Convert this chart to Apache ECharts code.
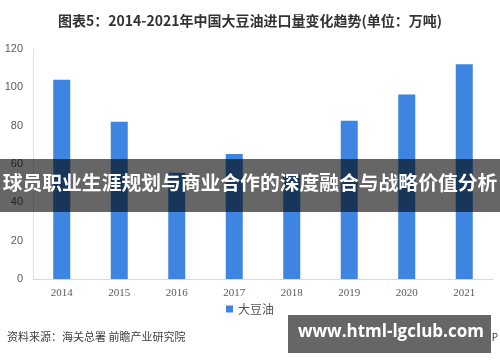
<!DOCTYPE html>
<html><head><meta charset="utf-8">
<script src="https://cdn.jsdelivr.net/npm/echarts@6/dist/echarts.min.js"></script>
<style>html,body{margin:0;padding:0;background:#fff}#c{width:500px;height:362px}</style>
</head><body><div id="c"></div>
<script>
const categories = ['2014','2015','2016','2017','2018','2019','2020','2021'];
const soyOil = [104, 82, 55.5, 65.2, 54.8, 82.6, 96.3, 112];
const yTicks = [0, 20, 40, 60, 80, 100, 120];
const titleText = '图表5：2014-2021年中国大豆油进口量变化趋势(单位：万吨)';
const seriesName = '大豆油';
const sourceText = '资料来源：海关总署 前瞻产业研究院';
const creditText = '@前瞻经济学人APP';
const bannerText = '球员职业生涯规划与商业合作的深度融合与战略价值分析';
const boxText = 'www.html-lgclub.com';

const chart = echarts.init(document.getElementById('c'), null, {renderer: 'canvas'});
chart.setOption({
  animation: false,
  backgroundColor: '#fff',
  title: {
    text: titleText, left: 'center', top: 9,
    textStyle: {fontSize: 14, fontWeight: 'bold', color: '#333', fontFamily: 'Noto Sans CJK SC'}
  },
  grid: {left: 33, right: 7, top: 49, bottom: 83},
  legend: {
    bottom: 42, left: 'center', itemWidth: 7, itemHeight: 7, itemGap: 6,
    icon: 'rect',
    textStyle: {fontSize: 12, color: '#555', fontFamily: 'Noto Sans CJK SC'},
    data: [seriesName]
  },
  xAxis: {
    type: 'category', data: categories,
    axisLine: {lineStyle: {color: '#d9d9d9'}},
    axisTick: {show: false},
    axisLabel: {color: '#595959', fontSize: 11, fontFamily: 'Liberation Serif', margin: 9}
  },
  yAxis: {
    type: 'value', min: yTicks[0], max: yTicks[yTicks.length - 1], interval: 20,
    axisLine: {show: true, lineStyle: {color: '#e0e0e0'}},
    axisTick: {show: false},
    splitLine: {show: false},
    axisLabel: {color: '#595959', fontSize: 11, fontFamily: 'Liberation Sans', margin: 10}
  },
  series: [{
    name: seriesName, type: 'bar', data: soyOil,
    barWidth: 17,
    itemStyle: {color: '#3D85E0'}
  }],
  graphic: [
    {type: 'text', left: 7, top: 331, z: 10,
     style: {text: sourceText, fill: '#404040', fontSize: 11, fontFamily: 'Noto Sans CJK SC'}},
    {type: 'text', right: 2, top: 332, z: 10,
     style: {text: creditText, fill: '#404040', fontSize: 10, fontFamily: 'Noto Sans CJK SC'}},
    {type: 'rect', left: 0, top: 159, z: 100,
     shape: {width: 500, height: 53},
     style: {fill: 'rgba(0,0,0,0.6)'}},
    {type: 'text', left: 'center', top: 173, z: 101,
     style: {text: bannerText, fill: '#fff', fontSize: 19.8, fontWeight: 'bold', fontFamily: 'Noto Sans CJK SC'}},
    {type: 'rect', left: 288, top: 315, z: 100,
     shape: {width: 203, height: 38},
     style: {fill: '#666'}},
    {type: 'text', left: 298, top: 324, z: 101,
     style: {text: boxText, fill: '#fff', fontSize: 17, fontWeight: 'bold', fontFamily: 'Open Sans'}}
  ]
});
</script></body></html>
